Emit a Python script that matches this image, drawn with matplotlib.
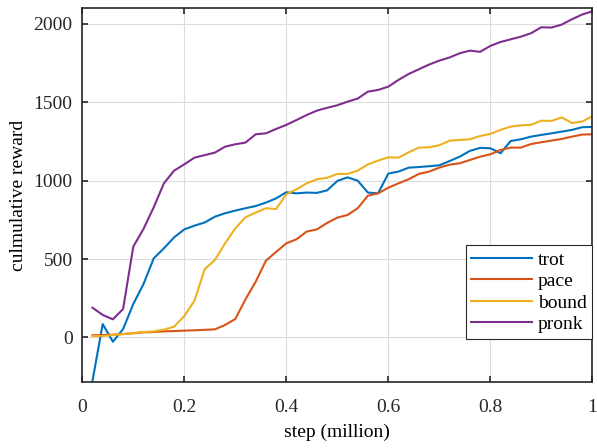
import numpy as np
import matplotlib
matplotlib.use("Agg")
import matplotlib.pyplot as plt

# ── Data ──────────────────────────────────────────────────────────────────────
steps = [round(0.02 * k, 2) for k in range(1, 51)]

trot = [-277, 85, -28, 53, 213, 340, 504, 568, 638, 689,
        713, 733, 770, 792, 809, 824, 838, 860, 887, 926,
        919, 924, 922, 938, 998, 1021, 1000, 924, 919, 1045,
        1058, 1083, 1087, 1092, 1098, 1125, 1153, 1190, 1209, 1207,
        1175, 1253, 1264, 1281, 1292, 1302, 1313, 1324, 1341, 1343]

pace = [13, 15, 17, 21, 26, 32, 34, 38, 40, 43,
        45, 48, 51, 79, 117, 243, 355, 489, 545, 600,
        626, 675, 689, 730, 764, 781, 824, 904, 919, 955,
        983, 1009, 1043, 1058, 1083, 1102, 1111, 1132, 1153, 1168,
        1196, 1211, 1211, 1234, 1245, 1256, 1266, 1281, 1294, 1296]

bound = [8, 9, 15, 21, 28, 34, 38, 49, 68, 136,
         234, 435, 494, 600, 696, 766, 796, 824, 819, 913,
         945, 983, 1009, 1018, 1043, 1043, 1064, 1104, 1128, 1149,
         1147, 1181, 1211, 1213, 1226, 1255, 1260, 1264, 1285, 1298,
         1324, 1345, 1353, 1356, 1383, 1381, 1404, 1368, 1377, 1411]

pronk = [189, 143, 115, 181, 579, 692, 830, 983, 1064, 1104,
         1147, 1163, 1179, 1217, 1232, 1243, 1296, 1302, 1330, 1356,
         1387, 1419, 1447, 1465, 1481, 1504, 1524, 1568, 1579, 1600,
         1643, 1681, 1711, 1741, 1766, 1786, 1813, 1830, 1822, 1860,
         1885, 1902, 1919, 1941, 1979, 1977, 1996, 2030, 2060, 2081]

series = {"trot": trot, "pace": pace, "bound": bound, "pronk": pronk}
colors = {"trot": "#0072BD", "pace": "#D95319", "bound": "#EDB120", "pronk": "#7E2F8E"}

# ── Style ─────────────────────────────────────────────────────────────────────
plt.rcParams["font.family"] = ["Liberation Serif", "DejaVu Serif"]
plt.rcParams["font.size"] = 14

fig = plt.figure(figsize=(5.97, 4.48), dpi=100)
ax = fig.add_axes([82.3 / 597, 1 - 382 / 448, 510 / 597, 373.7 / 448])

for name, vals in series.items():
    ax.plot(steps, vals, color=colors[name], linewidth=1.5, label=name)

ax.set_xlim(0, 1)
ax.set_ylim(-285, 2100)
ax.set_xticks([0, 0.2, 0.4, 0.6, 0.8, 1])
ax.set_xticklabels(["0", "0.2", "0.4", "0.6", "0.8", "1"])
ax.set_yticks([0, 500, 1000, 1500, 2000])
ax.set_xlabel("step (million)", labelpad=6)
ax.set_ylabel("culmulative reward", labelpad=5)

ax.grid(True, color="#dcdcdc", linewidth=0.8)
ax.set_axisbelow(True)
ax.tick_params(direction="in", top=True, right=True, length=4, width=1.2,
               color="#262626", labelcolor="#262626")
ax.tick_params(axis="x", pad=12)
ax.tick_params(axis="y", pad=7)
for sp in ax.spines.values():
    sp.set_color("#262626")
    sp.set_linewidth(1.2)

leg = ax.legend(loc="lower right", bbox_to_anchor=(1.0, 0.115), borderaxespad=0,
                fancybox=False, edgecolor="#262626", framealpha=1,
                handlelength=3.1, labelspacing=0.2, borderpad=0.3,
                handletextpad=0.3, fontsize=14)
leg.get_frame().set_linewidth(0.8)

fig.savefig("out.png", dpi=100)
